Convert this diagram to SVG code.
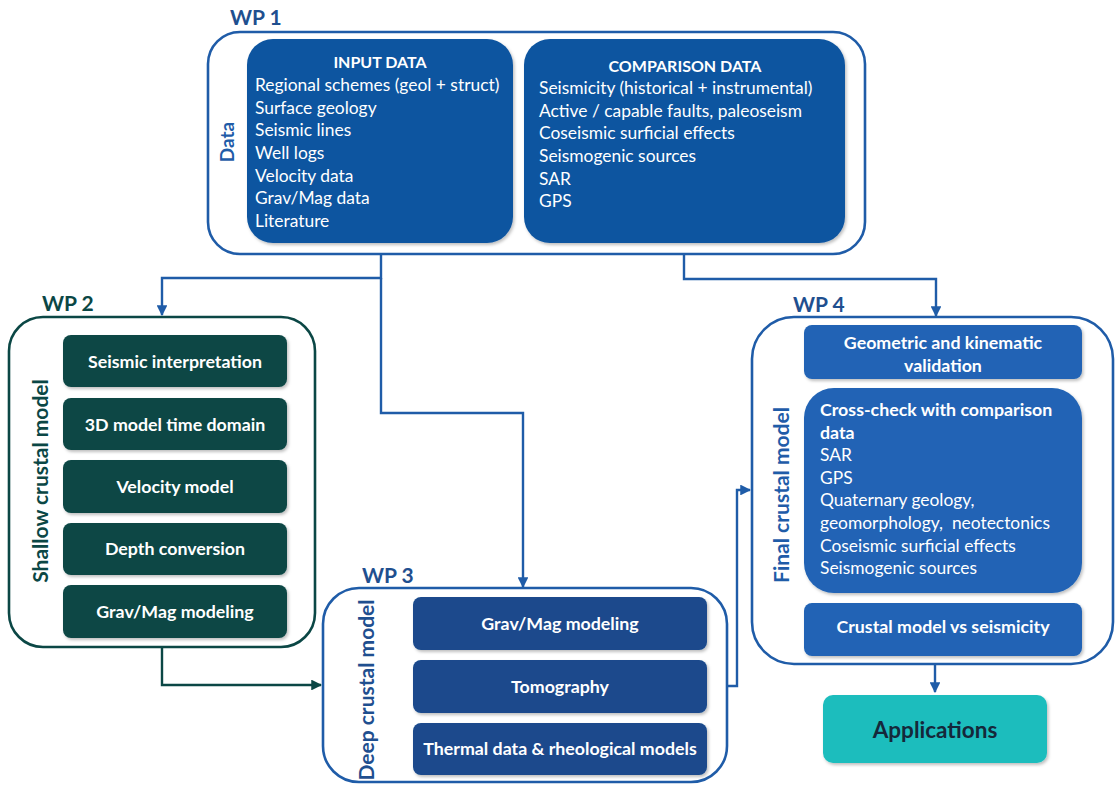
<svg xmlns="http://www.w3.org/2000/svg" width="1117" height="785" viewBox="0 0 1117 785">
<style>
.wp{font-family:Lato,"Liberation Sans",sans-serif;font-weight:bold;font-size:21px;fill:#1f4f8f}
.side{font-family:Lato,"Liberation Sans",sans-serif;font-weight:bold;font-size:21px}
.frame{fill:#fff;stroke-width:2.6}
.blue{stroke:#1f5ca8}
.teal{stroke:#0b4745}
.t{font-family:Lato,"Liberation Sans",sans-serif;font-size:17.4px;fill:#fff}
.hd{font-family:Lato,"Liberation Sans",sans-serif;font-size:16px;font-weight:bold;fill:#fff;text-anchor:middle}
.b{font-family:Lato,"Liberation Sans",sans-serif;font-size:17.8px;font-weight:bold;fill:#fff;text-anchor:middle}
.bl{font-family:Lato,"Liberation Sans",sans-serif;font-size:17.8px;font-weight:bold;fill:#fff}
.c1{fill:#0f55a0}
.c2{fill:#0b4745}
.c3{fill:#1a4a8c}
.c4{fill:#2164b5}
.conn{fill:none;stroke-width:2.4}
</style>
<defs>
<filter id="sh" x="-10%" y="-10%" width="120%" height="130%">
<feDropShadow dx="1.5" dy="2" stdDeviation="1.5" flood-color="#000" flood-opacity="0.25"/>
</filter>
<marker id="ab" viewBox="0 0 10 10" refX="9" refY="5" markerWidth="4.5" markerHeight="4.5" orient="auto" markerUnits="strokeWidth">
<path d="M0,0 L10,5 L0,10 z" fill="#1f5ca8"/>
</marker>
<marker id="at" viewBox="0 0 10 10" refX="9" refY="5" markerWidth="4.5" markerHeight="4.5" orient="auto" markerUnits="strokeWidth">
<path d="M0,0 L10,5 L0,10 z" fill="#0b4745"/>
</marker>
</defs>
<rect width="1117" height="785" fill="#fff"/>

<g id="connectors">
<path class="conn blue" d="M381,243 V278 H162 V315" marker-end="url(#ab)"/>
<path class="conn blue" d="M381,278 V413 H523 V587" marker-end="url(#ab)"/>
<path class="conn blue" d="M684,243 V279 H936 V316" marker-end="url(#ab)"/>
<path class="conn teal" d="M162,647 V685 H321" marker-end="url(#at)"/>
<path class="conn blue" d="M727,686 H737 V490 H750" marker-end="url(#ab)"/>
<path class="conn blue" d="M935,664 V692" marker-end="url(#ab)"/>
</g>

<g id="wp1">
<text class="wp" x="230" y="25">WP 1</text>
<rect class="frame blue" x="208" y="32" width="657" height="222" rx="32"/>
<text class="side" style="font-size:19px" fill="#1f5ca8" transform="translate(234,142) rotate(-90)" text-anchor="middle">Data</text>
<g id="input-data">
<rect class="c1" x="247" y="39" width="266" height="204" rx="26" filter="url(#sh)"/>
<text class="hd" x="380" y="68">INPUT DATA</text>
<text class="t" x="255" y="91">Regional schemes (geol + struct)</text>
<text class="t" x="255" y="114">Surface geology</text>
<text class="t" x="255" y="136">Seismic lines</text>
<text class="t" x="255" y="159">Well logs</text>
<text class="t" x="255" y="182">Velocity data</text>
<text class="t" x="255" y="204">Grav/Mag data</text>
<text class="t" x="255" y="227">Literature</text>
</g>
<g id="comparison-data">
<rect class="c1" x="524" y="39" width="321" height="204" rx="26" filter="url(#sh)"/>
<text class="hd" x="685" y="72">COMPARISON DATA</text>
<text class="t" x="539" y="94">Seismicity (historical + instrumental)</text>
<text class="t" x="539" y="117">Active / capable faults, paleoseism</text>
<text class="t" x="539" y="139">Coseismic surficial effects</text>
<text class="t" x="539" y="162">Seismogenic sources</text>
<text class="t" x="539" y="185">SAR</text>
<text class="t" x="539" y="207">GPS</text>
</g>
</g>

<g id="wp2">
<text class="wp" x="42" y="311" style="fill:#0b4745">WP 2</text>
<rect class="frame teal" x="9" y="317" width="306" height="330" rx="34"/>
<text class="side" fill="#0b4745" transform="translate(48,481) rotate(-90)" text-anchor="middle">Shallow crustal model</text>
<g id="wp2-seismic"><rect class="c2" x="63" y="335" width="224" height="52" rx="8" filter="url(#sh)"/><text class="b" x="175" y="368">Seismic interpretation</text></g>
<g id="wp2-3d"><rect class="c2" x="63" y="398" width="224" height="52" rx="8" filter="url(#sh)"/><text class="b" x="175" y="431">3D model time domain</text></g>
<g id="wp2-velocity"><rect class="c2" x="63" y="460" width="224" height="53" rx="8" filter="url(#sh)"/><text class="b" x="175" y="493">Velocity model</text></g>
<g id="wp2-depth"><rect class="c2" x="63" y="523" width="224" height="52" rx="8" filter="url(#sh)"/><text class="b" x="175" y="555">Depth conversion</text></g>
<g id="wp2-gravmag"><rect class="c2" x="63" y="585" width="224" height="53" rx="8" filter="url(#sh)"/><text class="b" x="175" y="618">Grav/Mag modeling</text></g>
</g>

<g id="wp3">
<text class="wp" x="362" y="583">WP 3</text>
<rect class="frame blue" x="323" y="588" width="404" height="194" rx="36"/>
<text class="side" fill="#1f4f8f" transform="translate(374,690) rotate(-90)" text-anchor="middle">Deep crustal model</text>
<g id="wp3-gravmag"><rect class="c3" x="413" y="597" width="294" height="53" rx="8" filter="url(#sh)"/><text class="b" x="560" y="630">Grav/Mag modeling</text></g>
<g id="wp3-tomo"><rect class="c3" x="413" y="660" width="294" height="53" rx="8" filter="url(#sh)"/><text class="b" x="560" y="693">Tomography</text></g>
<g id="wp3-thermal"><rect class="c3" x="413" y="723" width="294" height="52" rx="8" filter="url(#sh)"/><text class="b" x="560" y="755">Thermal data &amp; rheological models</text></g>
</g>

<g id="wp4">
<text class="wp" x="793" y="312">WP 4</text>
<rect class="frame blue" x="752" y="317" width="361" height="347" rx="42"/>
<text class="side" fill="#1f5ca8" transform="translate(789,495) rotate(-90)" text-anchor="middle">Final crustal model</text>
<g id="wp4-geom"><rect class="c4" x="804" y="325" width="278" height="54" rx="8" filter="url(#sh)"/>
<text class="b" x="943" y="349">Geometric and kinematic</text><text class="b" x="943" y="372">validation</text></g>
<g id="wp4-cross"><rect class="c4" x="804" y="388" width="278" height="205" rx="30" filter="url(#sh)"/>
<text class="bl" x="820" y="416">Cross-check with comparison</text>
<text class="bl" x="820" y="439">data</text>
<text class="t" x="820" y="461">SAR</text>
<text class="t" x="820" y="484">GPS</text>
<text class="t" x="820" y="506">Quaternary geology,</text>
<text class="t" x="820" y="529" xml:space="preserve">geomorphology,  neotectonics</text>
<text class="t" x="820" y="552">Coseismic surficial effects</text>
<text class="t" x="820" y="574">Seismogenic sources</text></g>
<g id="wp4-seis"><rect class="c4" x="804" y="603" width="278" height="53" rx="8" filter="url(#sh)"/><text class="b" x="943" y="633">Crustal model vs seismicity</text></g>
</g>

<g id="applications">
<rect x="823" y="695" width="224" height="68" rx="10" fill="#1dbdbd" filter="url(#sh)"/>
<text x="935" y="738" text-anchor="middle" font-family="Lato,'Liberation Sans',sans-serif" font-weight="bold" font-size="22.5" fill="#15283a">Applications</text>
</g>
</svg>
